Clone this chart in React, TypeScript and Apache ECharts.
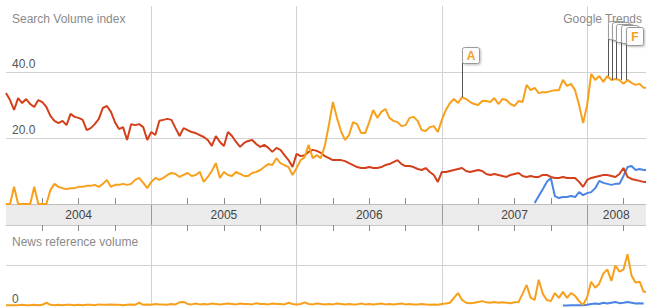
import React, { useEffect, useRef } from "react";
import * as echarts from "echarts";

// ---- data (10-day steps starting Jan 2004) ----
const START_YEAR = 2004;
const STEPS_PER_YEAR = 36;
const X_MAX = 2008.405;

const YEAR_LABELS = ["2004", "2005", "2006", "2007", "2008"];
const YEAR_LABEL_POS = [2004.5, 2005.5, 2006.5, 2007.5, 2008.2];
const QUARTER_TICKS = [
  2004.25, 2004.5, 2004.75, 2005.25, 2005.5, 2005.75, 2006.25, 2006.5, 2006.75,
  2007.25, 2007.5, 2007.75, 2008.25,
];

const SEARCH_RED = [
  33.6, 31.5, 28.5, 32.1, 30.6, 31.8, 30.3, 29.4, 31.5, 30.9,
  29.4, 26.7, 25.2, 24.5, 25.2, 23.9, 27.3, 26.4, 26.1, 25.5,
  22.4, 23.0, 24.2, 25.8, 29.1, 29.7, 27.9, 24.8, 22.7, 23.3,
  19.4, 24.2, 23.9, 24.2, 23.3, 19.4, 21.8, 20.9, 25.2, 25.5,
  25.8, 25.5, 23.0, 20.6, 23.0, 22.4, 21.8, 21.5, 20.9, 20.3,
  19.4, 17.6, 20.6, 18.8, 17.6, 21.8, 20.6, 18.8, 17.3, 18.5,
  19.1, 19.4, 18.2, 17.3, 17.9, 17.0, 15.8, 17.0, 16.4, 14.8,
  13.3, 11.2, 15.2, 14.5, 14.8, 15.8, 16.4, 16.1, 15.5, 14.5,
  13.9, 13.3, 13.3, 13.3, 13.0, 12.4, 11.8, 11.2, 10.9, 10.9,
  11.2, 10.9, 10.9, 11.2, 11.8, 12.1, 12.7, 13.3, 12.1, 11.5,
  11.5, 11.2, 10.6, 10.3, 10.9, 9.7, 8.8, 6.7, 9.7, 9.7,
  10.0, 10.3, 10.6, 10.9, 10.0, 9.7, 10.0, 10.3, 10.0, 9.1,
  8.8, 9.1, 8.8, 8.5, 8.2, 8.8, 9.1, 9.4, 8.5, 8.2,
  8.5, 8.2, 8.2, 8.8, 8.8, 8.2, 7.9, 7.9, 8.2, 7.9,
  7.9, 7.9, 6.7, 5.2, 7.3, 7.9, 8.2, 8.5, 8.8, 8.8,
  8.5, 8.2, 9.1, 10.9, 8.2, 7.6, 7.3, 7.0, 6.7, 6.7,
];

const SEARCH_ORANGE = [
  0, 0, 5.2, 0, 0, 0, 0, 5.2, 0, 0,
  0, 4.2, 6.1, 5.2, 4.8, 4.5, 4.8, 4.8, 5.2, 5.2,
  5.5, 5.5, 5.8, 5.2, 6.1, 7.3, 5.2, 5.8, 5.8, 6.1,
  5.8, 6.1, 7.3, 7.9, 6.4, 4.8, 6.7, 7.9, 7.3, 7.9,
  8.8, 9.4, 9.1, 8.2, 8.8, 9.4, 8.5, 8.8, 9.7, 6.7,
  8.2, 10.0, 12.4, 7.9, 9.7, 8.8, 8.5, 9.7, 9.1, 8.5,
  8.5, 9.4, 9.7, 10.3, 11.2, 12.1, 11.8, 13.9, 12.4, 11.8,
  11.2, 8.8, 10.9, 13.3, 14.2, 17.9, 13.9, 14.8, 13.9, 17.6,
  23.9, 30.9, 26.1, 22.1, 19.4, 20.9, 24.8, 24.2, 21.5, 21.5,
  24.8, 28.5, 26.1, 27.9, 28.8, 26.1, 25.2, 24.8, 23.6, 23.9,
  26.1, 26.4, 25.2, 22.4, 22.1, 23.3, 23.6, 21.8, 25.5, 28.5,
  30.6, 31.8, 30.6, 32.4, 31.8, 30.9, 30.3, 30.0, 31.2, 31.2,
  30.9, 32.1, 30.3, 31.8, 31.5, 30.3, 29.7, 31.2, 30.9, 36.1,
  34.5, 35.2, 33.6, 33.9, 33.9, 34.2, 34.5, 34.5, 37.6, 35.8,
  36.4, 34.5, 30.0, 24.5, 30.0, 39.4, 37.6, 38.8, 37.0, 38.8,
  37.6, 37.9, 37.6, 36.4, 37.6, 36.7, 36.1, 36.4, 35.2, 35.2,
];

const SEARCH_BLUE_START = 131;
const SEARCH_BLUE = [
  0.3, 2.4, 4.5, 6.7, 7.9, 2.4, 1.8, 2.1, 2.1,
  2.4, 2.1, 3.6, 2.7, 3.3, 3.6, 4.8, 7.0, 6.4, 6.1,
  5.8, 6.1, 6.1, 8.5, 11.2, 11.5, 10.3, 10.6, 10.3, 10.3,
];

const NEWS_ORANGE = [
  0.02, 0.02, 0.02, 0.02, 0.03, 0.02, 0.02, 0.03, 0.02, 0.03,
  0.08, 0.03, 0.02, 0.03, 0.02, 0.03, 0.03, 0.02, 0.03, 0.02,
  0.03, 0.03, 0.02, 0.04, 0.03, 0.03, 0.04, 0.03, 0.03, 0.02,
  0.03, 0.04, 0.03, 0.08, 0.03, 0.04, 0.03, 0.05, 0.04, 0.04,
  0.03, 0.05, 0.04, 0.09, 0.10, 0.05, 0.04, 0.06, 0.04, 0.05,
  0.04, 0.06, 0.05, 0.04, 0.05, 0.06, 0.05, 0.04, 0.06, 0.05,
  0.05, 0.04, 0.07, 0.05, 0.05, 0.04, 0.06, 0.05, 0.05, 0.04,
  0.08, 0.05, 0.04, 0.05, 0.09, 0.05, 0.04, 0.06, 0.05, 0.04,
  0.05, 0.04, 0.06, 0.05, 0.04, 0.05, 0.04, 0.04, 0.06, 0.04,
  0.05, 0.04, 0.05, 0.06, 0.04, 0.05, 0.04, 0.05, 0.06, 0.04,
  0.05, 0.04, 0.04, 0.05, 0.04, 0.03, 0.04, 0.03, 0.05, 0.06,
  0.08, 0.20, 0.32, 0.15, 0.08, 0.07, 0.08, 0.10, 0.12, 0.09,
  0.08, 0.10, 0.08, 0.09, 0.08, 0.07, 0.09, 0.10, 0.30, 0.52,
  0.20, 0.15, 0.65, 0.30, 0.15, 0.12, 0.32, 0.20, 0.35, 0.20,
  0.32, 0.25, 0.12, 0.03, 0.22, 0.60, 0.45, 0.55, 0.80, 0.90,
  0.62, 1.00, 0.85, 0.90, 1.28, 0.75, 0.58, 0.60, 0.35, 0.35,
];

const NEWS_BLUE_START = 138;
const NEWS_BLUE = [
  0.01, 0.01, 0.02, 0.02, 0.02, 0.02, 0.03, 0.05, 0.06, 0.05, 0.08, 0.06,
  0.08, 0.10, 0.07, 0.08, 0.10, 0.08, 0.06, 0.07, 0.06,
];

const FLAG_LABELS = ["A", "B", "C", "D", "E", "F"];
const FLAG_DATES = [2007.138, 2008.143, 2008.17, 2008.197, 2008.23, 2008.265];

// ---- styles ----
const RED = "#d4401b";
const ORANGE = "#f7a01c";
const BLUE = "#4a84e6";
const FONT = '"Liberation Sans", Arial, Helvetica, sans-serif';
const FLAG_BOX_TOP = [47, 21, 22, 24, 25, 27];
const SHOW_FLAG_LETTER = [true, false, false, false, false, true];

const toPairs = (vals: number[], start = 0) =>
  vals.map((v, i) => [START_YEAR + (start + i) / STEPS_PER_YEAR, v]);

export default function App() {
  const ref = useRef<HTMLDivElement>(null);

  useEffect(() => {
    document.body.style.margin = "0";
    const chart = echarts.init(ref.current!, null, { renderer: "svg" });

    const xBase = {
      type: "value",
      min: START_YEAR,
      max: X_MAX,
      interval: 1,
    };
    const splitLineShared = {
      show: true,
      showMinLine: false,
      showMaxLine: false,
    };
    const tickAxis = (gridIndex: number, position: string) => ({
      type: "value",
      min: START_YEAR,
      max: X_MAX,
      gridIndex,
      position,
      offset: 0,
      axisLine: { show: false },
      axisTick: {
        show: true,
        customValues: QUARTER_TICKS,
        inside: true,
        length: 6,
        lineStyle: { color: "#8a8a8a" },
      },
      axisLabel: { show: false },
      splitLine: { show: false },
    });

    const option: any = {
      animation: false,
      backgroundColor: "#ffffff",
      grid: [
        { left: 6, right: 0, top: 6, height: 198 },
        {
          left: 6,
          right: 0,
          top: 204,
          height: 21,
          show: true,
          backgroundColor: "#ebebeb",
          borderWidth: 0,
        },
        { left: 6, right: 0, top: 225, height: 81 },
      ],
      xAxis: [
        {
          ...xBase,
          gridIndex: 0,
          position: "bottom",
          axisLine: { show: true, lineStyle: { color: "#bdbdbd", width: 1 } },
          axisTick: { show: false },
          axisLabel: { show: false },
          splitLine: { ...splitLineShared, lineStyle: { color: "#d2d2d2" } },
        },
        {
          ...xBase,
          gridIndex: 1,
          position: "bottom",
          axisLine: { show: true, lineStyle: { color: "#c8c8c8", width: 1 } },
          axisTick: { show: false },
          axisLabel: {
            show: true,
            customValues: YEAR_LABEL_POS,
            inside: true,
            margin: 4,
            formatter: (v: number) =>
              YEAR_LABELS[YEAR_LABEL_POS.indexOf(v)] ?? "",
            color: "#444",
            fontSize: 12,
            fontFamily: FONT,
          },
          splitLine: { ...splitLineShared, lineStyle: { color: "#9a9a9a" } },
        },
        {
          ...xBase,
          gridIndex: 2,
          position: "top",
          axisLine: { show: false },
          axisTick: { show: false },
          axisLabel: { show: false },
          splitLine: { ...splitLineShared, lineStyle: { color: "#d2d2d2" } },
        },
        tickAxis(0, "bottom"),
        tickAxis(2, "top"),
      ],
      yAxis: [
        {
          gridIndex: 0,
          type: "value",
          min: 0,
          max: 60,
          interval: 20,
          axisLine: { show: false },
          axisTick: { show: false },
          splitLine: { ...splitLineShared, lineStyle: { color: "#d2d2d2" } },
          axisLabel: {
            inside: true,
            margin: 6,
            verticalAlign: "bottom",
            padding: [0, 0, 2, 0],
            formatter: (v: number) => (v === 20 || v === 40 ? v.toFixed(1) : ""),
            color: "#555",
            fontSize: 12,
            fontFamily: FONT,
          },
        },
        { gridIndex: 1, type: "value", min: 0, max: 1, show: false },
        {
          gridIndex: 2,
          type: "value",
          min: 0,
          max: 2,
          interval: 1,
          axisLine: { show: false },
          axisTick: { show: false },
          splitLine: { ...splitLineShared, lineStyle: { color: "#d2d2d2" } },
          axisLabel: {
            inside: true,
            margin: 6,
            verticalAlign: "bottom",
            padding: [0, 0, 1, 0],
            formatter: (v: number) => (v === 0 ? "0" : ""),
            color: "#555",
            fontSize: 12,
            fontFamily: FONT,
          },
        },
      ],
      series: [
        {
          type: "line",
          xAxisIndex: 0,
          yAxisIndex: 0,
          data: toPairs(SEARCH_BLUE, SEARCH_BLUE_START),
          symbol: "none",
          lineStyle: { color: BLUE, width: 2 },
          itemStyle: { color: BLUE },
        },
        {
          type: "line",
          xAxisIndex: 0,
          yAxisIndex: 0,
          data: toPairs(SEARCH_RED),
          symbol: "none",
          lineStyle: { color: RED, width: 2 },
          itemStyle: { color: RED },
        },
        {
          type: "line",
          xAxisIndex: 0,
          yAxisIndex: 0,
          data: toPairs(SEARCH_ORANGE),
          symbol: "none",
          lineStyle: { color: ORANGE, width: 2 },
          itemStyle: { color: ORANGE },
        },
        {
          type: "line",
          xAxisIndex: 2,
          yAxisIndex: 2,
          data: toPairs(NEWS_BLUE, NEWS_BLUE_START),
          symbol: "none",
          lineStyle: { color: BLUE, width: 2 },
          itemStyle: { color: BLUE },
        },
        {
          type: "line",
          xAxisIndex: 2,
          yAxisIndex: 2,
          data: toPairs(NEWS_ORANGE),
          symbol: "none",
          lineStyle: { color: ORANGE, width: 2 },
          itemStyle: { color: ORANGE },
        },
      ],
    };

    chart.setOption(option);

    const texts: any[] = [
      {
        type: "text",
        z: 50,
        style: {
          text: "Search Volume index",
          x: 12,
          y: 19,
          verticalAlign: "middle",
          fill: "#8a8a8a",
          font: `12px ${FONT}`,
        },
      },
      {
        type: "text",
        z: 50,
        style: {
          text: "Google Trends",
          x: 642,
          y: 19,
          align: "right",
          verticalAlign: "middle",
          fill: "#8a8a8a",
          font: `12px ${FONT}`,
        },
      },
      {
        type: "text",
        z: 50,
        style: {
          text: "News reference volume",
          x: 12,
          y: 242,
          verticalAlign: "middle",
          fill: "#8a8a8a",
          font: `12px ${FONT}`,
        },
      },
    ];

    const flags: any[] = [];
    FLAG_DATES.forEach((d, k) => {
      const idx = Math.round((d - START_YEAR) * STEPS_PER_YEAR);
      const v = SEARCH_ORANGE[Math.min(idx, SEARCH_ORANGE.length - 1)];
      const p = chart.convertToPixel({ gridIndex: 0 }, [d, v]) as number[];
      const px = Math.round(p[0]) + 0.5;
      const top = FLAG_BOX_TOP[k];
      const w = 17;
      const h = k === 0 ? 16 : 18;
      flags.push({
        type: "line",
        z: 60 + k * 3,
        shape: { x1: px, y1: p[1], x2: px, y2: top + h },
        style: { stroke: "#555", lineWidth: 1 },
      });
      flags.push({
        type: "rect",
        z: 61 + k * 3,
        shape: { x: px, y: top + 0.5, width: w, height: h, r: 2 },
        style: {
          fill: "#fdfdfd",
          stroke: "#9a9a9a",
          lineWidth: 1,
          shadowBlur: 2,
          shadowOffsetX: 1,
          shadowOffsetY: 1,
          shadowColor: "rgba(0,0,0,0.25)",
        },
      });
      if (SHOW_FLAG_LETTER[k]) {
        flags.push({
          type: "text",
          z: 62 + k * 3,
          style: {
            text: FLAG_LABELS[k],
            x: px + w / 2,
            y: top + h / 2 + 1,
            align: "center",
            verticalAlign: "middle",
            fill: "#f2a01e",
            font: `bold 12px ${FONT}`,
          },
        });
      }
    });

    chart.setOption({ graphic: [...texts, ...flags] });

    return () => chart.dispose();
  }, []);

  return (
    <div
      ref={ref}
      style={{ position: "fixed", left: 0, top: 0, width: 646, height: 307 }}
    />
  );
}
